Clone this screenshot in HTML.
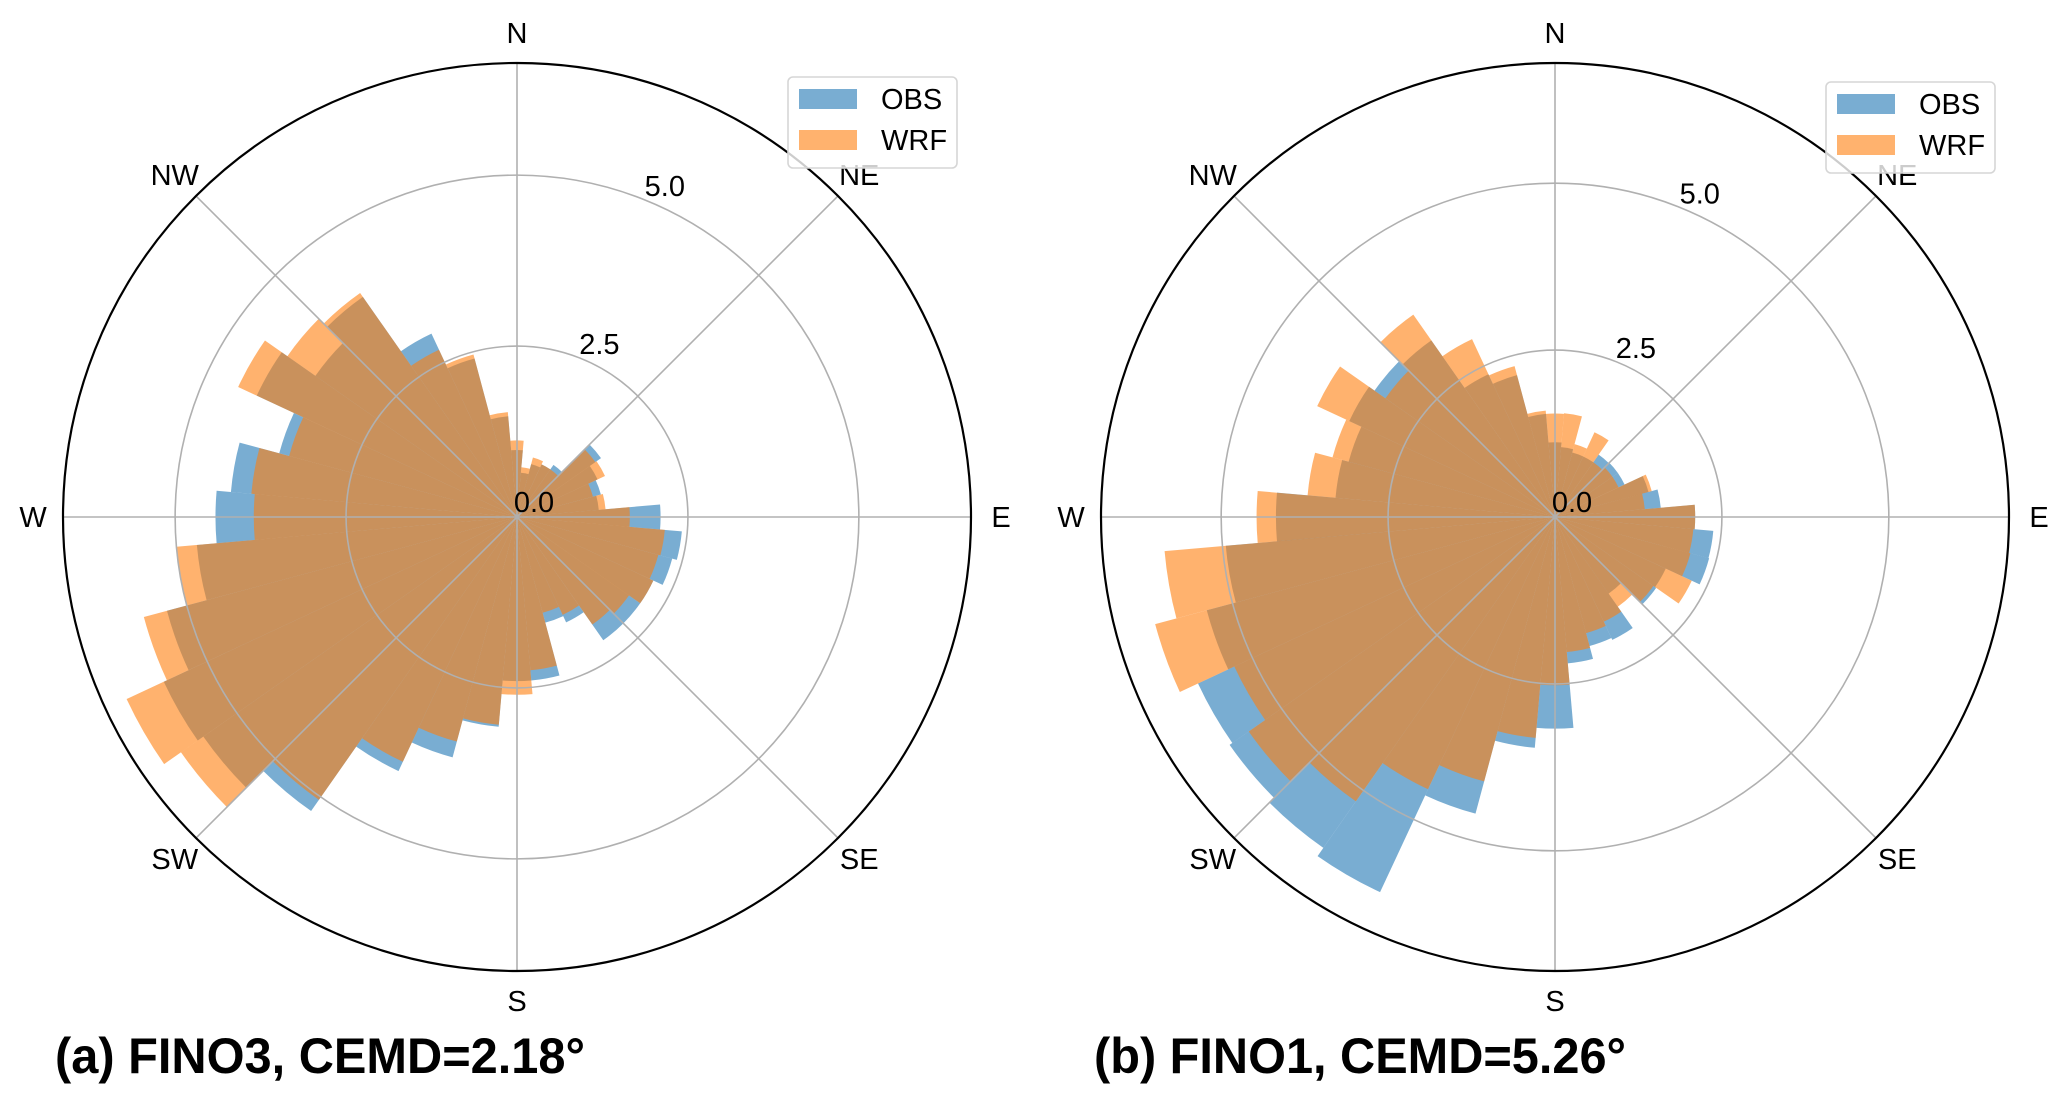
<!DOCTYPE html>
<html><head><meta charset="utf-8"><style>
html,body{margin:0;padding:0;background:#fff;}
svg{display:block;font-family:"Liberation Sans",sans-serif;}
</style></head><body>
<svg id="fig" width="2068" height="1099" viewBox="0 0 2068 1099" xmlns="http://www.w3.org/2000/svg"></svg>
<script>
const directions = [0,10,20,30,40,50,60,70,80,90,100,110,120,130,140,150,160,170,180,190,200,210,220,230,240,250,260,270,280,290,300,310,320,330,340,350];
const obsA = [0.98,0.65,0.8,0.85,0.93,1.5,1.3,1.27,1.2,2.1,2.42,2.35,2.2,2.2,2.2,1.7,1.6,2.4,2.4,3.08,3.64,4.1,5.25,5.6,5.7,5.3,4.7,4.41,4.2,3.6,4.2,3.6,3.93,2.96,2.4,1.48];
const wrfA = [1.12,0.73,0.9,0.85,0.85,1.4,1.42,1.15,1.3,1.65,2.17,2.14,2.2,2.0,1.92,1.58,1.45,2.25,2.6,3.05,3.4,3.95,5.05,6.0,6.3,5.65,5.0,3.85,3.9,3.45,4.5,4.1,4.0,2.7,2.46,1.54];
const obsB = [1.12,1.05,1.0,1.0,1.14,1.15,1.15,1.45,1.59,2.1,2.38,2.39,1.83,1.85,1.4,2.03,2.0,2.2,3.17,3.47,4.6,6.2,6.05,5.95,5.9,5.4,4.95,4.18,3.3,3.2,3.4,3.3,3.23,2.36,2.2,1.55];
const wrfB = [1.55,1.56,1.13,1.4,1.0,1.05,1.05,1.5,1.35,2.1,2.08,2.1,2.26,1.8,1.64,1.73,1.8,2.03,2.52,3.32,4.1,4.5,5.2,5.6,5.3,6.2,5.87,4.47,3.72,3.45,3.93,3.1,3.7,2.94,2.34,1.6];
const ringTicks = [0.0, 2.5, 5.0];
const ringLabels = ["0.0","2.5","5.0"];
const compassLabels = ["N","NE","E","SE","S","SW","W","NW"];
const titles = ["(a) FINO3, CEMD=2.18°","(b) FINO1, CEMD=5.26°"];

const NS="http://www.w3.org/2000/svg";
const svg=document.getElementById('fig');
function el(tag,attrs,parent){const e=document.createElementNS(NS,tag);for(const k in attrs)e.setAttribute(k,attrs[k]);(parent||svg).appendChild(e);return e;}

function drawRose(cx,cy,R,rmax,obs,wrf,legY,title,titleX,titleW,key){
  const g=el('g',{});
  
  
  const rs=v=>v/rmax*R;
  const pt=(deg,r)=>[cx+r*Math.sin(deg*Math.PI/180), cy-r*Math.cos(deg*Math.PI/180)];
  function wedge(d,v,fill,name){
    const r=rs(v);const a0=d-5,a1=d+5;
    const p0=pt(a0,r),p1=pt(a1,r);
    const p=el('path',{d:`M${cx},${cy} L${p0[0]},${p0[1]} A${r},${r} 0 0 1 ${p1[0]},${p1[1]} Z`,fill:fill,'fill-opacity':0.6},g);
    
    
  }
  directions.forEach((d,i)=>wedge(d,obs[i],'#1f77b4','obs-bar-'+d));
  directions.forEach((d,i)=>wedge(d,wrf[i],'#ff7f0e','wrf-bar-'+d));
  ringTicks.forEach(t=>{ if(t>0){const c=el('circle',{cx:cx,cy:cy,r:rs(t),fill:'none',stroke:'#b0b0b0','stroke-width':1.6},g);
    
    }});
  for(let k=0;k<8;k++){const p=pt(k*45,R);const l=el('line',{x1:cx,y1:cy,x2:p[0],y2:p[1],stroke:'#b0b0b0','stroke-width':1.6},g);
    
    }
  const oc=el('circle',{cx:cx,cy:cy,r:R,fill:'none',stroke:'#000','stroke-width':2.2},g);
  
  
  compassLabels.forEach((lab,k)=>{const p=pt(k*45,R+30);
    const t=el('text',{x:p[0],y:p[1]+10,'text-anchor':'middle','font-size':29,fill:'#000'},g);t.textContent=lab;
    
    });
  ringTicks.forEach((v,i)=>{const p=pt(22.5,rs(v));
    const t=el('text',{x:p[0]+17,y:p[1]-5,'text-anchor':'middle','font-size':29,fill:'#000'},g);t.textContent=ringLabels[i];
    
    });
  const lx=cx+271;
  const lg=el('g',{},g);
  
  
  el('rect',{x:lx,y:legY,width:169,height:91,rx:5,fill:'#fff','fill-opacity':0.8,stroke:'#d6d6d6','stroke-width':1.6},lg);
  [['OBS','#1f77b4',12],['WRF','#ff7f0e',53]].forEach(([n,c,dy])=>{
    const r=el('rect',{x:lx+11,y:legY+dy,width:58,height:20,fill:c,'fill-opacity':0.6},lg);
    
    
    const t=el('text',{x:lx+93,y:legY+dy+20,'font-size':29,fill:'#000'},lg);t.textContent=n;
    
    
  });
  const tt=el('text',{x:titleX,y:1073,'font-size':50,'font-weight':'bold',fill:'#000',textLength:titleW,lengthAdjust:'spacingAndGlyphs'});
  tt.textContent=title;
  
  
}
drawRose(517,517,454,6.64,obsA,wrfA,77,titles[0],55,530,'a');
drawRose(1555,517,454,6.8,obsB,wrfB,82,titles[1],1094,532,'b');
</script>
</body></html>
